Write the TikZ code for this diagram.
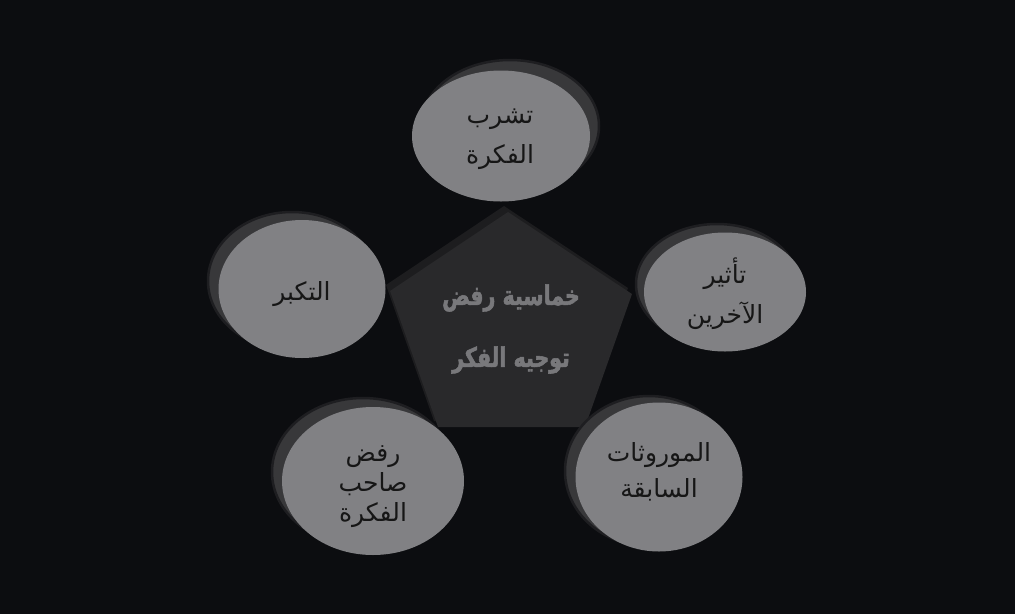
\documentclass[tikz,border=0pt]{standalone}
\usepackage{fontspec}
\usetikzlibrary{shapes.geometric}
\TeXXeTstate=1
\newfontfamily\arabicfont[Script=Arabic]{DejaVu Sans}
\newfontfamily\arabicbold[Script=Arabic,FakeStretch=0.76,FakeBold=2]{DejaVu Sans Bold}
\newcommand\RL[1]{\beginR #1\endR}
\definecolor{bg}{HTML}{0C0D10}
\definecolor{elfill}{HTML}{818184}
\definecolor{elshadow}{HTML}{38383A}
\definecolor{elrim}{HTML}{1E1E21}
\definecolor{pentfill}{HTML}{29292B}
\definecolor{pentshadow}{HTML}{1D1D1F}
\definecolor{penttext}{HTML}{78787B}
\definecolor{eltext}{HTML}{161616}
\begin{document}
\begin{tikzpicture}[x=1pt,y=-1pt,
  bubble/.style={ellipse, fill=elfill, inner sep=0pt},
  bubtext/.style={text=eltext, inner sep=0pt, align=center,
    font=\arabicfont\fontsize{25}{40}\selectfont},
  bubshadow/.style={fill=elshadow, draw=elrim, line width=2.5pt}]
\fill[bg] (0,0) rectangle (1015,614);
\useasboundingbox (0,0) rectangle (1015,614);
% pentagon
\coordinate (pt) at (508,212);
\coordinate (pr) at (632,294);
\coordinate (pbr) at (585,427);
\coordinate (pbl) at (438,427);
\coordinate (pl) at (390,291);
\fill[pentshadow] ([shift={(-4,-6)}]pt) -- ([shift={(-4,-6)}]pr) -- ([shift={(-4,-6)}]pbr) -- ([shift={(-4,-6)}]pbl) -- ([shift={(-4,-6)}]pl) -- cycle;
\fill[pentfill] (pt) -- (pr) -- (pbr) -- (pbl) -- (pl) -- cycle;
\node[text=penttext, font=\arabicbold\fontsize{27}{62}\selectfont, align=center] (title) at (511,329)
  {\RL{خماسية رفض}\\\RL{توجيه الفكر}};
% ellipse shadows
\filldraw[bubshadow] (510,126) ellipse [x radius=89, y radius=66];
\filldraw[bubshadow] (292,281) ellipse [x radius=84, y radius=69];
\filldraw[bubshadow] (717,284) ellipse [x radius=81, y radius=60];
\filldraw[bubshadow] (363,472) ellipse [x radius=91, y radius=74];
\filldraw[bubshadow] (649,471) ellipse [x radius=84, y radius=75];
% ellipses
\node[bubble, minimum width=178, minimum height=131] (e1) at (501,136) {};
\node[bubble, minimum width=167, minimum height=138] (e2) at (302,289) {};
\node[bubble, minimum width=162, minimum height=119] (e3) at (725,292) {};
\node[bubble, minimum width=182, minimum height=148] (e4) at (373,481) {};
\node[bubble, minimum width=167, minimum height=149] (e5) at (659,477) {};
% texts
\node[bubtext] (t1) at (500,139) {\RL{تشرب}\\\RL{الفكرة}};
\node[bubtext] (t2) at (302,294) {\RL{التكبر}};
\node[bubtext] (t3) at (725,294) {\RL{تأثير}\\\RL{الآخرين}};
\node[bubtext, font=\arabicfont\fontsize{25}{30}\selectfont] (t4) at (373,487) {\RL{رفض}\\\RL{صاحب}\\\RL{الفكرة}};
\node[bubtext, font=\arabicfont\fontsize{25}{36}\selectfont] (t5) at (659,472) {\RL{الموروثات}\\\RL{السابقة}};
\end{tikzpicture}
\end{document}
